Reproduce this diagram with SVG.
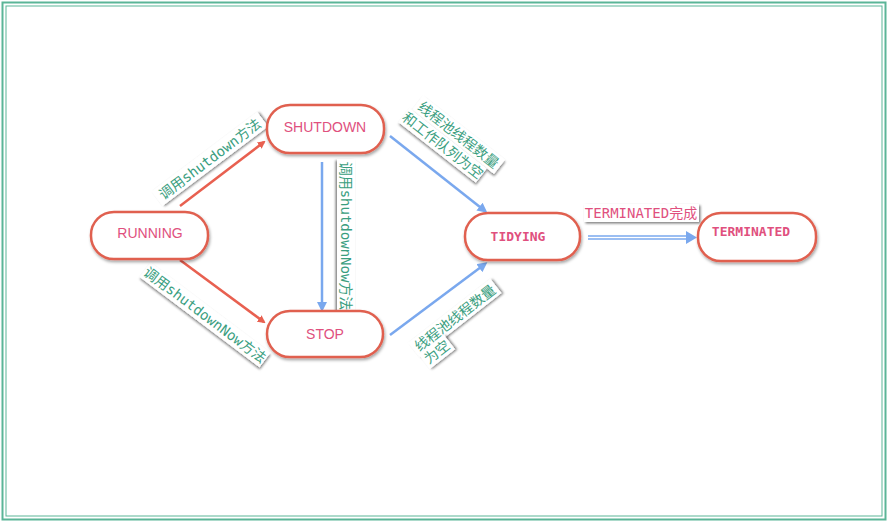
<svg xmlns="http://www.w3.org/2000/svg" width="889" height="523" viewBox="0 0 889 523">
<style>
.node rect{fill:#fff;stroke:#e06050;stroke-width:2.5;filter:url(#sh)}
.nt{font-family:"Liberation Sans",sans-serif;font-size:14px;fill:#e0507e;text-anchor:middle;dominant-baseline:central}
.mono{font-family:"DejaVu Sans Mono","Noto Sans CJK SC",monospace;font-size:13px;font-weight:bold}
.lb{font-family:"DejaVu Sans Mono","Noto Sans CJK SC",monospace;font-size:14px;fill:#3a9e80;text-anchor:middle;dominant-baseline:central}
.bg{fill:#fff;filter:url(#sh2)}
.red{stroke:#e86050;stroke-width:2.5;fill:none;marker-end:url(#ar)}
.blue{stroke:#7aa8ee;stroke-width:2.5;fill:none;marker-end:url(#ab)}
</style>
<defs>
<filter id="sh" x="-20%" y="-20%" width="140%" height="150%"><feDropShadow dx="1" dy="2" stdDeviation="1.5" flood-color="#000" flood-opacity="0.35"/></filter>
<filter id="sh2" x="-20%" y="-30%" width="140%" height="170%"><feDropShadow dx="1.5" dy="1.5" stdDeviation="0.8" flood-color="#000" flood-opacity="0.5"/></filter>
<marker id="ar" markerWidth="8" markerHeight="8" refX="6" refY="4" orient="auto" markerUnits="userSpaceOnUse" viewBox="0 0 8 8"><path d="M0,0 L8,4 L0,8 Z" fill="#e86050"/></marker>
<marker id="ab" markerWidth="10" markerHeight="10" refX="7" refY="5" orient="auto" markerUnits="userSpaceOnUse" viewBox="0 0 10 10"><path d="M0,0 L10,5 L0,10 Z" fill="#7aa8ee"/></marker>
</defs>
<rect x="0" y="0" width="889" height="523" fill="#fff"/>
<rect x="2.5" y="2.5" width="883" height="517" fill="none" stroke="#5bb597" stroke-width="2"/>
<rect x="6" y="6" width="876" height="510" fill="none" stroke="#5bb597" stroke-width="1"/>
<g id="connectors">
<line class="red" x1="180" y1="206" x2="264" y2="142"/>
<line class="red" x1="180" y1="260" x2="264" y2="322"/>
<line class="blue" x1="322" y1="162" x2="322" y2="309"/>
<line class="blue" x1="390" y1="136" x2="485" y2="211"/>
<line class="blue" x1="390" y1="335" x2="485" y2="264"/>
<line stroke="#7aa8ee" stroke-width="1.5" x1="588" y1="236" x2="690" y2="236"/>
<line stroke="#7aa8ee" stroke-width="1.5" x1="588" y1="239" x2="690" y2="239"/>
<path d="M686,231 L697,237.5 L686,244 Z" fill="#7aa8ee"/>
</g>
<g id="lbl1" transform="translate(210,159) rotate(-37)"><rect class="bg" x="-66" y="-9" width="132" height="18"/><text class="lb" x="0" y="0">调用shutdown方法</text></g>
<g id="lbl2" transform="translate(205,315) rotate(37)"><rect class="bg" x="-75" y="-9" width="150" height="18"/><text class="lb" x="0" y="0">调用shutdownNow方法</text></g>
<g id="lbl3" transform="translate(346,236) rotate(90)"><rect class="bg" x="-77" y="-9" width="154" height="18"/><text class="lb" x="0" y="0">调用shutdownNow方法</text></g>
<g id="lbl4" transform="translate(453,142) rotate(38)"><rect class="bg" x="-52" y="-18" width="104" height="18"/><rect class="bg" x="-55" y="0" width="98" height="18"/><text class="lb" x="0" y="-9">线程池线程数量</text><text class="lb" x="-6" y="9">和工作队列为空</text></g>
<g id="lbl5" transform="translate(455,318) rotate(-38)"><rect class="bg" x="-52" y="-9" width="104" height="18"/><text class="lb" x="0" y="0">线程池线程数量</text></g>
<g id="lbl5b" transform="translate(437,352) rotate(-38)"><rect class="bg" x="-16" y="-9" width="32" height="18"/><text class="lb" x="0" y="0">为空</text></g>
<g id="lbl6"><rect class="bg" x="584" y="204" width="115" height="18"/><text class="lb mono" x="641" y="213" style="fill:#e0507e;font-weight:normal">TERMINATED完成</text></g>
<g id="running" class="node"><rect x="91" y="212" width="117" height="47" rx="23"/><text class="nt" x="150" y="233">RUNNING</text></g>
<g id="shutdown" class="node"><rect x="267" y="105" width="117" height="48" rx="23"/><text class="nt" x="325" y="127">SHUTDOWN</text></g>
<g id="stop" class="node"><rect x="267" y="311" width="116" height="46" rx="23"/><text class="nt" x="325" y="334">STOP</text></g>
<g id="tidying" class="node"><rect x="465" y="213" width="115" height="47" rx="23"/><text class="nt mono" x="518" y="236">TIDYING</text></g>
<g id="terminated" class="node"><rect x="698" y="213" width="118" height="48" rx="23"/><text class="nt mono" x="751" y="231">TERMINATED</text></g>
</svg>
